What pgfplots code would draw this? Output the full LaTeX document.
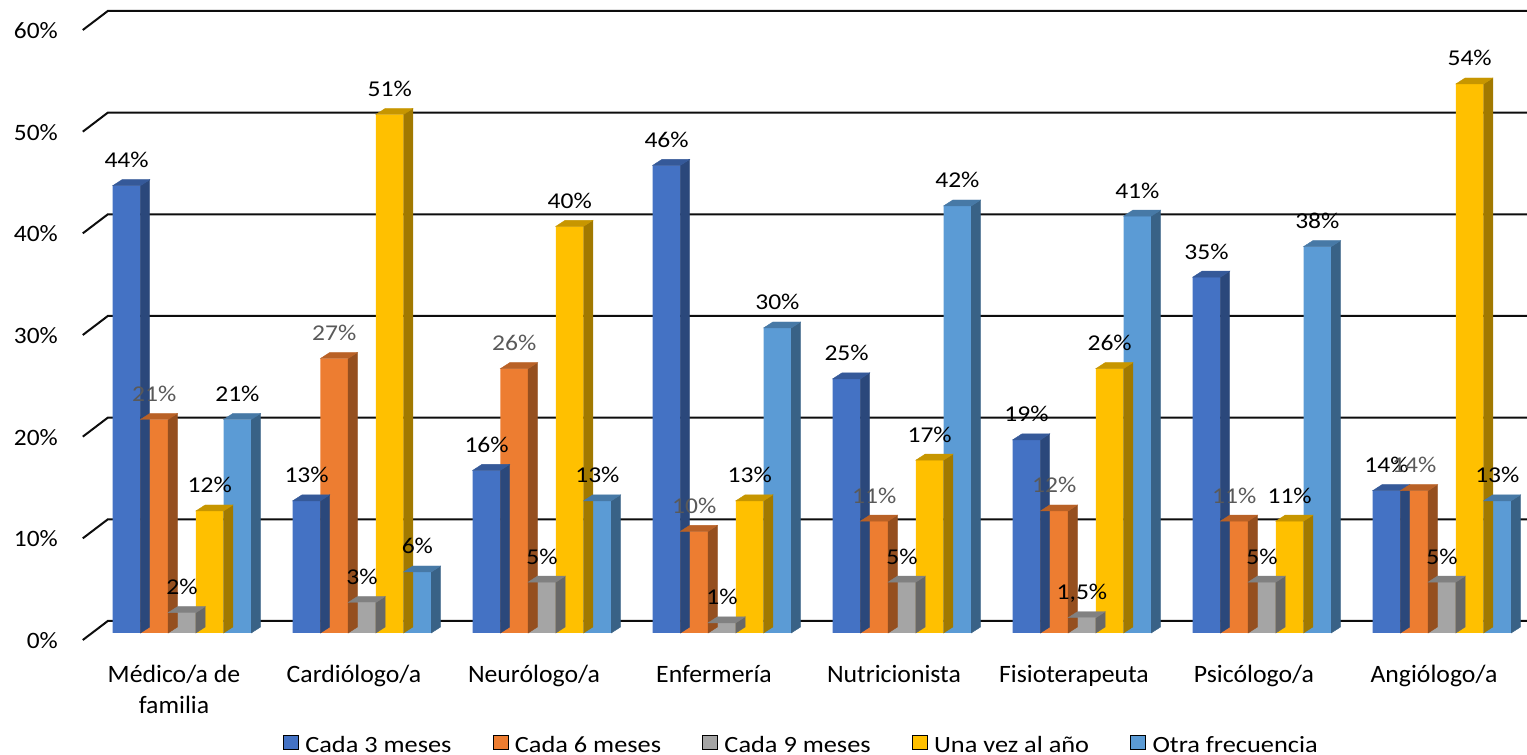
\documentclass[border=0pt]{standalone}
\usepackage{pgfplots}
\pgfplotsset{compat=1.18}
\usepackage{pgfplotstable}
\usepackage{fontspec}
\setmainfont{Carlito}
\newfontfamily\fLab{Carlito}[FakeStretch=1.13]
\newfontfamily\fTick{Carlito}[FakeStretch=1.08]
\newfontfamily\fCat{Carlito}[FakeStretch=1.03]

\definecolor{c1}{HTML}{4472C4}
\definecolor{c2}{HTML}{ED7D31}
\definecolor{c3}{HTML}{A5A5A5}
\definecolor{c4}{HTML}{FFC000}
\definecolor{c5}{HTML}{5B9BD5}
\definecolor{lblgray}{HTML}{595959}
\definecolor{gridc}{HTML}{0D0D0D}

% share of answers (%) per professional, one table per frequency
\pgfplotstableread{
x y
0 44
1 13
2 16
3 46
4 25
5 19
6 35
7 14
}\tA
\pgfplotstableread{
x y
0 21
1 27
2 26
3 10
4 11
5 12
6 11
7 14
}\tB
\pgfplotstableread{
x y
0 2
1 3
2 5
3 1
4 5
5 1.5
6 5
7 5
}\tC
\pgfplotstableread{
x y
0 12
1 51
2 40
3 13
4 17
5 26
6 11
7 54
}\tD
\pgfplotstableread{
x y
0 21
1 6
2 13
3 30
4 42
5 41
6 38
7 13
}\tE

% bar geometry (pt): width, depth offset of the top/side faces
\def\bw{27.7}
\def\ddx{9.3}
\def\ddy{6}
\def\yunit{10.16667}

\pgfdeclareplotmark{blank}{}

\pgfplotsset{
  % front face of a bar
  front/.style 2 args={ybar, bar width=\bw pt, bar shift=#1pt, fill=#2, draw=none, forget plot},
  % top and right side faces, drawn from the value of each point
  cap/.style 2 args={
    only marks, mark=blank, scatter, forget plot,
    visualization depends on={rawy \as \capval},
    scatter/@pre marker code/.code={%
      \pgfmathsetmacro\capH{\capval*\yunit}%
      \pgfmathsetmacro\capXa{#1-\bw/2}%
      \pgfmathsetmacro\capXb{#1+\bw/2}%
      \pgfmathsetmacro\capXc{#1-\bw/2+\ddx}%
      \pgfmathsetmacro\capXd{#1+\bw/2+\ddx}%
      \pgfmathsetmacro\capYb{\ddy-\capH}%
      \fill[#2!63!black] (\capXb pt,0pt) -- (\capXd pt,\ddy pt) -- (\capXd pt,\capYb pt) -- (\capXb pt,-\capH pt) -- cycle;
      \fill[#2!78!black] (\capXa pt,0pt) -- (\capXb pt,0pt) -- (\capXd pt,\ddy pt) -- (\capXc pt,\ddy pt) -- cycle;
    },
    scatter/@post marker code/.code={},
  },
  % value labels above the bars
  vlabel/.style 2 args={ybar, bar width=\bw pt, bar shift=#1pt, draw=none, fill=none, forget plot,
    nodes near coords={\pgfmathprintnumber[fixed,precision=1,use comma]{\pgfplotspointmeta}\%},
    every node near coord/.append style={anchor=base, xshift=#1pt, yshift=18pt, inner sep=0pt,
      text=#2, font=\fLab\fontsize{22.6}{27}\selectfont}},
}

\begin{document}
\begin{tikzpicture}
\begin{axis}[
  at={(92pt,122pt)}, anchor=south west,
  scale only axis, width=1440pt, height=610pt,
  xmin=-0.5, xmax=7.5, ymin=0, ymax=60,
  clip=false, set layers,
  axis line style={draw=none}, major tick length=0pt,
  /pgf/number format/assume math mode=true,
  xtick={0,...,7},
  xticklabels={{\rule{0pt}{21pt}Médico/a de\\familia},
    \rule{0pt}{21pt}Cardiólogo/a, \rule{0pt}{21pt}Neurólogo/a,
    \rule{0pt}{21pt}Enfermería, \rule{0pt}{21pt}Nutricionista,
    \rule{0pt}{21pt}Fisioterapeuta, \rule{0pt}{21pt}Psicólogo/a,
    \rule{0pt}{21pt}Angiólogo/a},
  xticklabel style={font=\fCat\fontsize{25}{31.7}\selectfont, align=center,
    anchor=north, inner sep=0pt, xshift=-8pt, yshift=-28pt},
  ytick={0,10,...,60},
  yticklabels={0\%,10\%,20\%,30\%,40\%,50\%,60\%},
  yticklabel style={font=\fTick\fontsize{23.5}{28}\selectfont, anchor=east,
    inner sep=0pt, xshift=-34pt, yshift=-7.5pt},
  legend columns=-1,
  legend image code/.code={\fill[#1] (0pt,-4.5pt) rectangle (15pt,10pt);},
  legend style={draw=none, fill=none, inner sep=0pt, outer sep=0pt,
    at={(axis description cs:0.1326,-0.1828)}, anchor=west,
    font=\fLab\fontsize{23.3}{28}\selectfont,
    nodes={inner sep=0pt}, column sep=7pt,
    /tikz/every even column/.append style={column sep=41pt}},
]
% back wall: horizontal lines with the short slanted floor stubs
\begin{pgfonlayer}{axis background}
\pgfplotsinvokeforeach{0,10,20,30,40,50,60}{
  \draw[gridc, line width=2pt]
    ([xshift=-9.2pt,yshift=-7pt]axis cs:-0.5,#1) --
    ([xshift=15.8pt,yshift=12pt]axis cs:-0.5,#1) --
    ([xshift=15.8pt,yshift=12pt]axis cs:7.5,#1);
}
\end{pgfonlayer}

\addplot[cap={-55.4}{c1}] table {\tA};
\addplot[front={-55.4}{c1}] table {\tA};
\addplot[cap={-27.7}{c2}] table {\tB};
\addplot[front={-27.7}{c2}] table {\tB};
\addplot[cap={0}{c3}] table {\tC};
\addplot[front={0}{c3}] table {\tC};
\addplot[cap={27.7}{c4}] table {\tD};
\addplot[front={27.7}{c4}] table {\tD};
\addplot[cap={55.4}{c5}] table {\tE};
\addplot[front={55.4}{c5}] table {\tE};

\addplot[vlabel={-55.4}{black}] table {\tA};
\addplot[vlabel={-27.7}{lblgray}] table {\tB};
\addplot[vlabel={0}{black}] table {\tC};
\addplot[vlabel={27.7}{black}] table {\tD};
\addplot[vlabel={55.4}{black}] table {\tE};

\addlegendimage{fill=c1}
\addlegendentry{Cada 3 meses}
\addlegendimage{fill=c2}
\addlegendentry{Cada 6 meses}
\addlegendimage{fill=c3}
\addlegendentry{Cada 9 meses}
\addlegendimage{fill=c4}
\addlegendentry{Una vez al año}
\addlegendimage{fill=c5}
\addlegendentry{Otra frecuencia}
\end{axis}
\pgfresetboundingbox
\path[use as bounding box] (0,0) rectangle (1527pt,755pt);
\end{tikzpicture}
\end{document}
